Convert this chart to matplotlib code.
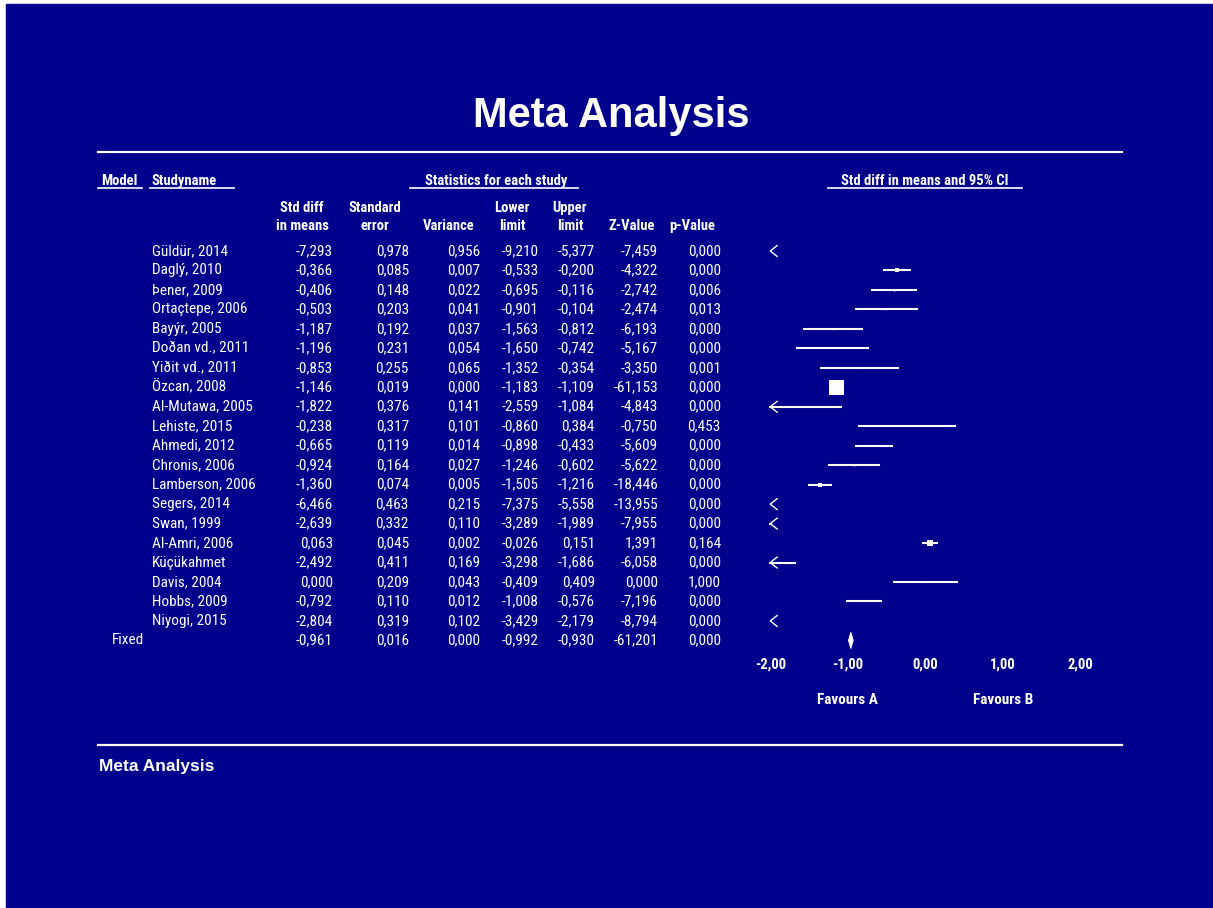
import matplotlib
matplotlib.use("Agg")
import matplotlib.pyplot as plt
from matplotlib import transforms
from matplotlib.lines import Line2D
from matplotlib.patches import Rectangle, Polygon
import numpy as np

# ---- study-level results -------------------------------------------------
studies = [
    "Güldür, 2014", "Daglý, 2010", "Þener, 2009", "Ortaçtepe, 2006",
    "Bayýr, 2005", "Doðan vd., 2011", "Yiðit vd., 2011", "Özcan, 2008",
    "Al-Mutawa, 2005", "Lehiste, 2015", "Ahmedi, 2012", "Chronis, 2006",
    "Lamberson, 2006", "Segers, 2014", "Swan, 1999", "Al-Amri, 2006",
    "Küçükahmet", "Davis, 2004", "Hobbs, 2009", "Niyogi, 2015",
]
std_diff = [-7.293, -0.366, -0.406, -0.503, -1.187, -1.196, -0.853, -1.146,
            -1.822, -0.238, -0.665, -0.924, -1.360, -6.466, -2.639, 0.063,
            -2.492, 0.000, -0.792, -2.804]
std_err = [0.978, 0.085, 0.148, 0.203, 0.192, 0.231, 0.255, 0.019,
           0.376, 0.317, 0.119, 0.164, 0.074, 0.463, 0.332, 0.045,
           0.411, 0.209, 0.110, 0.319]
variance = [0.956, 0.007, 0.022, 0.041, 0.037, 0.054, 0.065, 0.000,
            0.141, 0.101, 0.014, 0.027, 0.005, 0.215, 0.110, 0.002,
            0.169, 0.043, 0.012, 0.102]
lower = [-9.210, -0.533, -0.695, -0.901, -1.563, -1.650, -1.352, -1.183,
         -2.559, -0.860, -0.898, -1.246, -1.505, -7.375, -3.289, -0.026,
         -3.298, -0.409, -1.008, -3.429]
upper = [-5.377, -0.200, -0.116, -0.104, -0.812, -0.742, -0.354, -1.109,
         -1.084, 0.384, -0.433, -0.602, -1.216, -5.558, -1.989, 0.151,
         -1.686, 0.409, -0.576, -2.179]
z_value = [-7.459, -4.322, -2.742, -2.474, -6.193, -5.167, -3.350, -61.153,
           -4.843, -0.750, -5.609, -5.622, -18.446, -13.955, -7.955, 1.391,
           -6.058, 0.000, -7.196, -8.794]
p_value = [0.000, 0.000, 0.006, 0.013, 0.000, 0.000, 0.001, 0.000,
           0.000, 0.453, 0.000, 0.000, 0.000, 0.000, 0.000, 0.164,
           0.000, 1.000, 0.000, 0.000]

# ---- pooled (fixed-effect) result ---------------------------------------
fixed_label = "Fixed"
fixed_std_diff = -0.961
fixed_std_err = 0.016
fixed_variance = 0.000
fixed_lower = -0.992
fixed_upper = -0.930
fixed_z = -61.201
fixed_p = 0.000

x_ticks = [-2, -1, 0, 1, 2]
header_top = ["Std diff", "Standard", "", "Lower", "Upper", "", ""]
header_bottom = ["in means", "error", "Variance", "limit", "limit", "Z-Value", "p-Value"]
favours = ["Favours A", "Favours B"]

# ---- styling -------------------------------------------------------------
BG = "#00008c"
FG = "white"
NARROW = ["Roboto Condensed", "Liberation Sans", "DejaVu Sans"]
WIDE = ["Liberation Sans", "DejaVu Sans"]

W, H = 1213, 908
fig = plt.figure(figsize=(W / 100, H / 100), dpi=100)
fig.patch.set_facecolor("white")
fig.patches.append(Rectangle((6 / W, 0), 1 - 6 / W, 1 - 4 / H,
                             transform=fig.transFigure, color=BG, zorder=-10))


def fx(px):
    return px / W


def fy(py):
    return 1 - py / H


def hline(x0, x1, y, lw=1.5):
    fig.add_artist(Line2D([fx(x0), fx(x1)], [fy(y), fy(y)],
                          transform=fig.transFigure, color=FG, lw=lw))


def fmt(v, nd=3):
    return f"{v:.{nd}f}".replace(".", ",")


# title and rules
fig.text(fx(611), fy(116), "Meta Analysis", ha="center", va="center",
         color=FG, fontsize=30, fontweight="bold", family=WIDE)
hline(98, 1122, 152, lw=1.6)
hline(98, 1122, 745, lw=1.6)
fig.text(fx(99), fy(767), "Meta Analysis", ha="left", va="center",
         color=FG, fontsize=12.5, fontweight="bold", family=WIDE)

# ---- forest plot axes ----------------------------------------------------
n = len(studies)
nrows = n + 1
row_top, row_step = 251.0, 19.47
ax_top = row_top - row_step / 2
ax_bot = row_top + (nrows - 1) * row_step + row_step / 2
x_left, x_right = 770.2, 1080.7
ax = fig.add_axes([fx(x_left), fy(ax_bot), (x_right - x_left) / W,
                   (ax_bot - ax_top) / H])
ax.set_xlim(x_ticks[0], x_ticks[-1])
ax.set_ylim(nrows - 0.5, -0.5)
ax.set_facecolor("none")
for s in ax.spines.values():
    s.set_visible(False)
ax.set_yticks([])
ax.set_xticks(x_ticks)
ax.set_xticklabels([fmt(t, 2) for t in x_ticks], color=FG, fontsize=10.5,
                   fontweight="bold", family=NARROW)
ax.tick_params(axis="x", length=0, pad=5)

xmin = x_ticks[0]
chev_dx, chev_dy = 0.09, 0.28
w = 1.0 / np.square(np.array(std_err))
ms = 10.8 * np.sqrt(w / w.max())
for i in range(n):
    lo, hi, est = lower[i], upper[i], std_diff[i]
    if hi < xmin:
        ax.plot([xmin + chev_dx, xmin, xmin + chev_dx],
                [i - chev_dy, i, i + chev_dy], color=FG, lw=1.0,
                clip_on=False, solid_joinstyle="miter")
        continue
    if lo < xmin:
        ax.plot([xmin, hi], [i, i], color=FG, lw=1.5, clip_on=False)
        ax.plot([xmin + chev_dx, xmin, xmin + chev_dx],
                [i - chev_dy, i, i + chev_dy], color=FG, lw=1.0,
                clip_on=False, solid_joinstyle="miter")
    else:
        ax.plot([lo, hi], [i, i], color=FG, lw=1.5)
    if est >= xmin:
        ax.plot(est, i, marker="s", ms=ms[i], color=FG, mew=0)

# pooled diamond
r = n
ax.add_patch(Polygon([(fixed_lower, r), (fixed_std_diff, r - 0.42),
                      (fixed_upper, r), (fixed_std_diff, r + 0.42)],
                     closed=True, color=FG, lw=0.6))

# favours labels under the axis
tb = transforms.blended_transform_factory(ax.transData, fig.transFigure)
for xv, lab in zip([-1, 1], favours):
    ax.text(xv, fy(700), lab, transform=tb, ha="center", va="center",
            color=FG, fontsize=11, fontweight="bold", family=NARROW)

# ---- table ---------------------------------------------------------------
trow = transforms.blended_transform_factory(fig.transFigure, ax.transData)
col_right = [333, 409, 480, 539, 595, 658, 721]
col_center = [302, 375, 449, 512, 570, 632, 692]
kw = dict(color=FG, fontsize=11, family=NARROW, va="center")

for i in range(n):
    ax.text(fx(152), i, studies[i], transform=trow, ha="left", **kw)
    vals = [std_diff[i], std_err[i], variance[i], lower[i], upper[i],
            z_value[i], p_value[i]]
    for xr, v in zip(col_right, vals):
        ax.text(fx(xr), i, fmt(v), transform=trow, ha="right", **kw)

ax.text(fx(112), n, fixed_label, transform=trow, ha="left", **kw)
fixed_vals = [fixed_std_diff, fixed_std_err, fixed_variance, fixed_lower,
              fixed_upper, fixed_z, fixed_p]
for xr, v in zip(col_right, fixed_vals):
    ax.text(fx(xr), n, fmt(v), transform=trow, ha="right", **kw)

# column headers
hkw = dict(color=FG, fontsize=10.5, fontweight="bold", family=NARROW,
           va="center", ha="center")
for xc, t1, t2 in zip(col_center, header_top, header_bottom):
    if t1:
        fig.text(fx(xc), fy(208), t1, **hkw)
    fig.text(fx(xc), fy(226), t2, **hkw)

gkw = dict(color=FG, fontsize=10.5, fontweight="bold", family=NARROW,
           va="center")
fig.text(fx(101), fy(181), "Model", ha="left", **gkw)
hline(98, 142, 188, lw=1.2)
fig.text(fx(152), fy(181), "Studyname", ha="left", **gkw)
hline(150, 234, 188, lw=1.2)
fig.text(fx(496), fy(181), "Statistics for each study", ha="center", **gkw)
hline(410, 578, 188, lw=1.2)
fig.text(fx(925), fy(181), "Std diff in means and 95% CI", ha="center", **gkw)
hline(828, 1022, 188, lw=1.2)

fig.savefig("out.png", dpi=100, facecolor=fig.get_facecolor())
